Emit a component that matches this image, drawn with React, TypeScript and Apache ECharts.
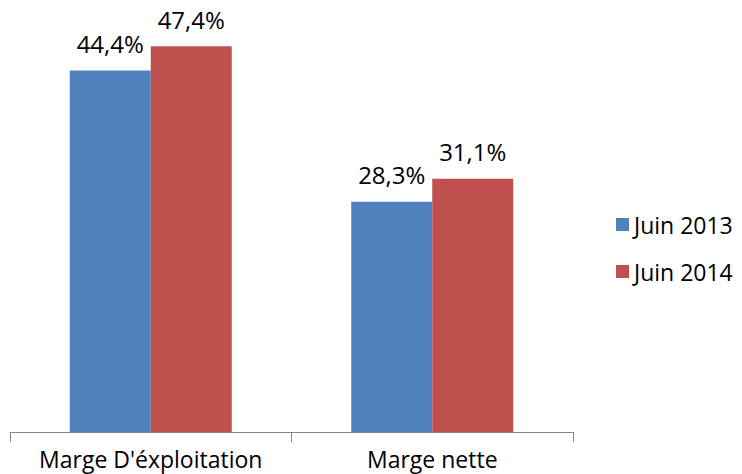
import React, { useEffect, useRef } from "react";
import * as echarts from "echarts";

const categories = ["Marge D'éxploitation", "Marge nette"];
const seriesNames = ["Juin 2013", "Juin 2014"];
const values2013 = [44.4, 28.3];
const values2014 = [47.4, 31.1];
const colors = ["#4F81BD", "#C0504D"];

const FONT = "Open Sans";

export default function App() {
  const ref = useRef<HTMLDivElement>(null);
  useEffect(() => {
    if (!ref.current) return;
    const chart = echarts.init(ref.current, null, { renderer: "svg" });
    const label = {
      show: true,
      position: "top",
      distance: 15,
      color: "#000",
      fontFamily: FONT,
      fontSize: 24,
      formatter: (p: any) => p.value.toFixed(1).replace(".", ",") + "%",
    };
    chart.setOption({
      animation: false,
      grid: { left: 10, right: 169, top: 25, bottom: 42, containLabel: false },
      legend: {
        orient: "vertical",
        left: 611,
        top: 208,
        padding: 5,
        itemWidth: 13,
        itemHeight: 13,
        itemGap: 24,
        icon: "rect",
        textStyle: { fontFamily: FONT, fontSize: 23, color: "#000" },
        data: seriesNames,
      },
      xAxis: {
        type: "category",
        data: categories,
        axisLine: { lineStyle: { color: "#868686", width: 1 } },
        axisTick: { show: true, length: 10, interval: 0, lineStyle: { color: "#868686" } },
        axisLabel: { fontFamily: FONT, fontSize: 23, color: "#000", margin: 15, interval: 0 },
      },
      yAxis: {
        type: "value",
        min: 0,
        max: 50,
        show: false,
        splitLine: { show: false },
      },
      series: [
        {
          name: seriesNames[0],
          type: "bar",
          data: values2013,
          barWidth: 81,
          barGap: "0%",
          itemStyle: { color: colors[0] },
          label,
        },
        {
          name: seriesNames[1],
          type: "bar",
          data: values2014,
          barWidth: 81,
          barGap: "0%",
          itemStyle: { color: colors[1] },
          label,
        },
      ],
    });
    return () => chart.dispose();
  }, []);
  return <div ref={ref} style={{ width: 742, height: 474, position: "absolute", left: 0, top: 0 }} />;
}
